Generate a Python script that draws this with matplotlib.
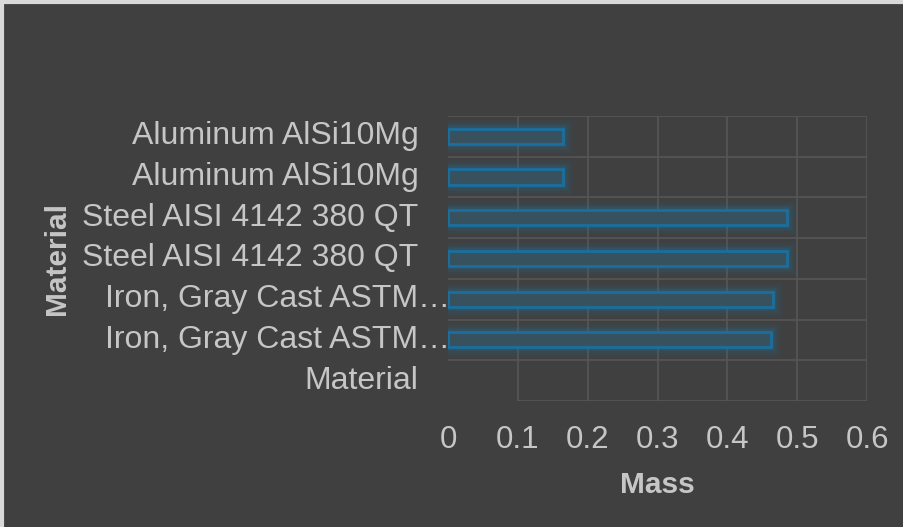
import matplotlib.pyplot as plt
from matplotlib.patches import Rectangle
from matplotlib.transforms import blended_transform_factory

# data, top to bottom as shown
materials = ["Aluminum AlSi10Mg", "Aluminum AlSi10Mg",
             "Steel AISI 4142 380 QT", "Steel AISI 4142 380 QT",
             "Iron, Gray Cast ASTM…", "Iron, Gray Cast ASTM…",
             "Material"]
mass = [0.165, 0.165, 0.486, 0.486, 0.465, 0.463, 0.0]
xticks = [0, 0.1, 0.2, 0.3, 0.4, 0.5, 0.6]
xticklabels = ["0", "0.1", "0.2", "0.3", "0.4", "0.5", "0.6"]

bg = "#404040"
txt = "#c6c6c6"
grid = "#565656"
fs = 23

plt.rcParams['font.family'] = ['Liberation Sans', 'DejaVu Sans']

fig = plt.figure(figsize=(9.04, 5.27), dpi=100, facecolor=bg)
ax = fig.add_axes([0.4956, 0.239, 0.4635, 0.541])
ax.set_facecolor(bg)

n = len(materials)
ypos = [n - 1 - i for i in range(n)]
bar_y = [y for y, m in zip(ypos, mass) if m > 0]
bar_m = [m for m in mass if m > 0]

# soft glow under the bars
for lw, a in [(14, 0.04), (11, 0.05), (8, 0.07), (6, 0.09), (4, 0.12)]:
    ax.barh(bar_y, bar_m, height=0.37, left=0, color="none",
            edgecolor="#1d7fb3", linewidth=lw, alpha=a, zorder=2)
ax.barh(bar_y, bar_m, height=0.37, left=0, color="#37515f",
        edgecolor="#1a6f9e", linewidth=2, zorder=3)

ax.set_xlim(0, 0.6)
ax.set_ylim(-0.5, n - 0.5)

# grid
for x in xticks[1:]:
    ax.axvline(x, color=grid, linewidth=1.2, zorder=1)
for k in range(1, n + 1):
    ax.axhline(k - 0.5, color=grid, linewidth=1.2, zorder=1)
ax.axhline(-0.5, xmin=1 / 6, xmax=1, color=grid, linewidth=1.2, zorder=1)

for s in ax.spines.values():
    s.set_visible(False)

ax.set_xticks(xticks)
ax.set_xticklabels(xticklabels, color=txt, fontsize=fs - 0.5)
ax.tick_params(axis='x', length=0, pad=17)
ax.set_yticks([])

trans = blended_transform_factory(ax.transAxes, ax.transData)
for label, y in zip(materials, ypos):
    xoff = 0.005 if label.endswith("…") else -0.071
    ax.text(xoff, y, label, transform=trans, ha="right", va="center",
            color=txt, fontsize=fs)

ax.set_xlabel("Mass", color=txt, fontsize=fs - 1.5, fontweight="bold", labelpad=12)
fig.text(0.063, 0.51, "Material", rotation=90, ha="center", va="center",
         color=txt, fontsize=fs - 1.5, fontweight="bold")

fig.patches.append(Rectangle((0.002, -0.01), 1.1, 1.006, transform=fig.transFigure,
                             fill=False, edgecolor="#d9d9d9", linewidth=3))

plt.savefig("out.png", dpi=100, facecolor=bg)
